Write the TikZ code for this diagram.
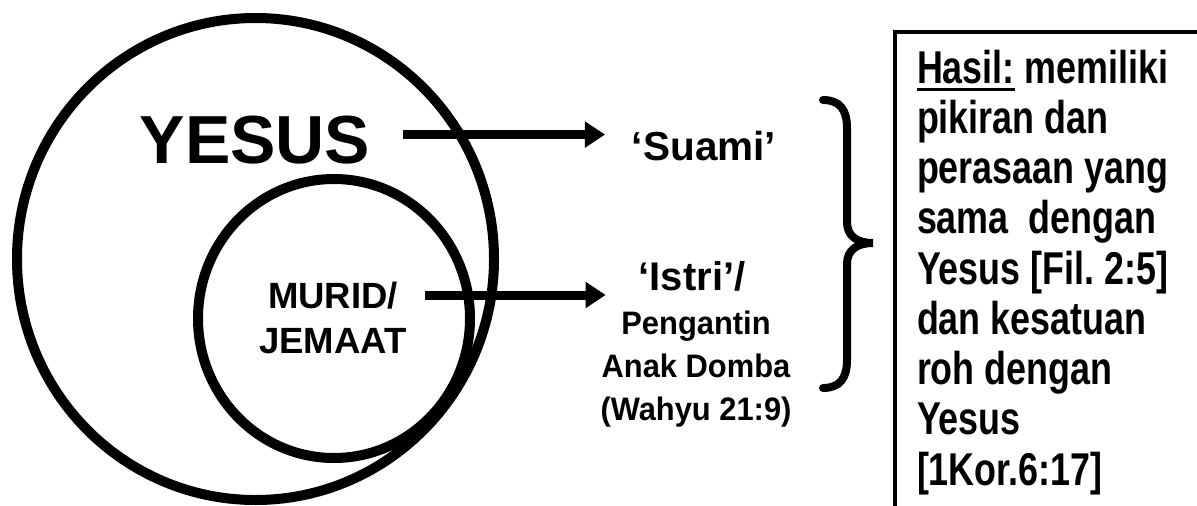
\documentclass[tikz,border=0pt]{standalone}
\usepackage{fontspec}
\setmainfont{Liberation Sans}
\newfontfamily\narrowsans{Liberation Sans}[FakeStretch=0.78]
\newfontfamily\semisans{Liberation Sans}[FakeStretch=0.95]
\usetikzlibrary{arrows.meta,calc}
\frenchspacing

% underline with a heavier rule than \underline gives
\newcommand\heavyul[1]{\setbox0\hbox{#1}\rlap{\rule[-7.5pt]{\wd0}{3pt}}\box0\relax}

\begin{document}
\begin{tikzpicture}[x=1pt,y=-1pt,
  ring/.style={line width=10pt},
  pointer/.style={line width=9pt,-{Triangle[length=20pt,width=25pt]}},
  lbl/.style={inner sep=0pt,outer sep=0pt},
]
\useasboundingbox (0,0) rectangle (1197,506);

% the two circles
\draw[ring] (255.5,259) ellipse [x radius=238.5pt, y radius=241pt];
\draw[ring] (334,318.5) ellipse [x radius=136pt, y radius=139.5pt];

% labels inside the circles
\node[lbl, anchor=base, font=\bfseries\fontsize{68}{68}\selectfont] (yesus) at (255,163) {YESUS};
\node[lbl, align=center, font=\bfseries\fontsize{36.5}{45}\selectfont] (murid) at (333,318) {MURID/\\JEMAAT};

% labels on the right of the arrows
\node[lbl, anchor=base, font=\bfseries\fontsize{40.5}{40}\selectfont] (suami) at (704,160) {‘Suami’};
\node[lbl, anchor=base, font=\bfseries\fontsize{40}{40}\selectfont] (istri) at (692,290) {‘Istri’/};
\node[lbl, align=center, font=\semisans\bfseries\fontsize{32.5}{43}\selectfont] (bride) at (696,369) {Pengantin\\Anak Domba\\(Wahyu 21:9)};

% arrows
\draw[pointer] ($(yesus.east)+(33,-5)$) -- ($(yesus.east -| suami.west)+(-27,-5)$);
\draw[pointer] ($(murid.east)+(18,-23)$) -- ($(murid.east -| istri.west)+(-33,-23)$);

% curly brace
\draw[line width=8pt, line cap=round]
  (823,100) .. controls (840,100) and (847,110) .. (847,128)
  -- (847,222) .. controls (847,236) and (857,243) .. (873,243)
  .. controls (857,243) and (847,250) .. (847,264)
  -- (847,360) .. controls (847,378) and (840,388) .. (823,388);

% open box on the right
\draw[line width=3.5pt] (1205,32) -- (895,32) -- (895,515);
\node[lbl, anchor=base west, align=left,
      font=\narrowsans\bfseries\fontsize{46}{50.25}\selectfont] (result) at (917,485)
  {\heavyul{Hasil:} memiliki\\pikiran dan\\perasaan yang\\sama\ \ dengan\\Yesus {[}Fil. 2:5{]}\\dan kesatuan\\roh dengan\\Yesus\\{[}1Kor.6:17{]}};
\end{tikzpicture}
\end{document}
